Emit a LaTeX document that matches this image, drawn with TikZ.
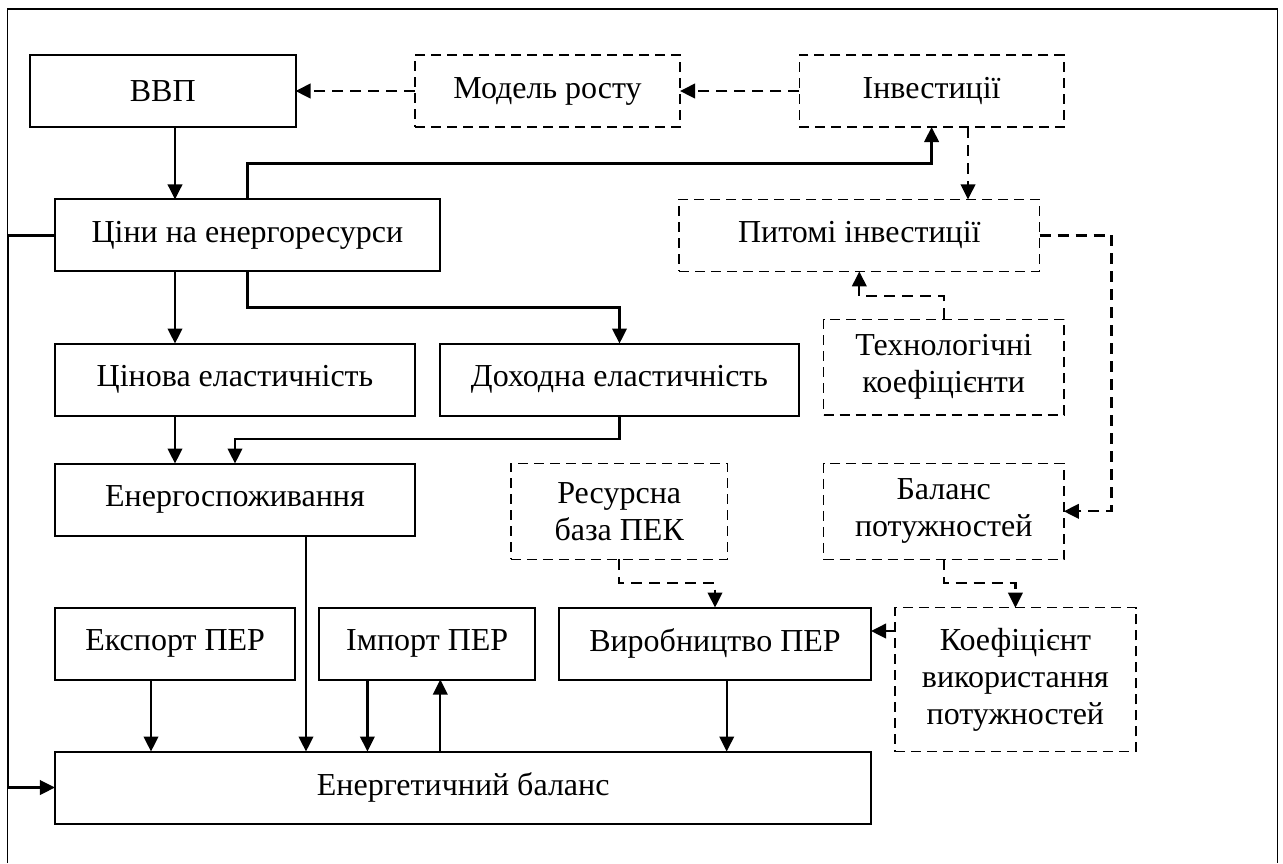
\documentclass[tikz,border=0pt]{standalone}
\usepackage{fontspec}
\setmainfont{Liberation Serif}
\usetikzlibrary{arrows.meta}
\tikzset{
blok/.style={draw,line width=0.8pt,inner sep=0pt,outer sep=0pt,align=center,font=\fontsize{12.8}{14.8}\selectfont,minimum height=28.8pt},
dblok/.style={blok,line width=0.6pt,dash pattern=on 4pt off 2.4pt},
arr/.style={line width=0.9pt,-{Triangle[length=6pt,width=5.8pt]}},
darr/.style={arr,dash pattern=on 4.4pt off 2.8pt},
}
\begin{document}
\begin{tikzpicture}[x=0.4pt,y=-0.4pt]
\useasboundingbox (0,0) rectangle (1283,863);
\draw[line width=0.7pt] (7.5,863)--(7.5,9)--(1277.5,9)--(1277.5,863);
%
\node[blok,minimum width=106.2pt] (vvp) at (162.75,91) {ВВП};
\node[dblok,minimum width=106pt] (model) at (547.5,91) {Модель росту};
\node[dblok,minimum width=105.8pt] (invest) at (931.6,91) {Інвестиції};
\node[blok,minimum width=153.9pt] (ceny) at (247.4,235.4) {Ціни на енергоресурси};
\node[dblok,minimum width=144.2pt] (pytomi) at (859.3,235.4) {Питомі інвестиції};
\node[blok,minimum width=144pt] (cinova) at (235,379.5) {Цінова еластичність};
\node[blok,minimum width=143.9pt] (dokhodna) at (619.5,379.5) {Доходна еластичність};
\node[dblok,minimum width=96.1pt,minimum height=38.3pt] (tekhn) at (943.7,367.2) {Технологічні\\коефіцієнти};
\node[blok,minimum width=144pt] (energo) at (235,499.5) {Енергоспоживання};
\node[dblok,minimum width=86.6pt,minimum height=38.4pt] (resurs) at (619.2,511.3) {Ресурсна\\база ПЕК};
\node[dblok,minimum width=96.1pt,minimum height=38.4pt] (balpot) at (943.7,511.3) {Баланс\\потужностей};
\node[blok,minimum width=96.2pt] (eksport) at (175.2,643.5) {Експорт ПЕР};
\node[blok,minimum width=86.6pt] (import) at (427.2,643.5) {Імпорт ПЕР};
\node[blok,minimum width=124.8pt] (vyrob) at (715,643.5) {Виробництво ПЕР};
\node[dblok,minimum width=96.3pt,minimum height=57.6pt] (koef) at (1015.4,679.7) {Коефіцієнт\\використання\\потужностей};
\node[blok,minimum width=326.6pt] (balans) at (463.2,787.5) {Енергетичний баланс};
%
\draw[darr] (model.west)--(vvp.east);
\draw[darr] (invest.west)--(model.east);
\draw[arr] (vvp.south -| 175,0)--(ceny.north -| 175,0);
\draw[arr] (ceny.north)--++(0,-36)-|(invest.south);
\draw[arr] (ceny.south)--++(0,36)-|(dokhodna.north);
\draw[arr] (ceny.south -| 175,0)--(cinova.north -| 175,0);
\draw[arr] (cinova.south -| 175,0)--(energo.north -| 175,0);
\draw[arr] (dokhodna.south)--++(0,23.5)-|(energo.north);
\draw[arr] (energo.south -| 306,0)--(balans.north -| 306,0);
\draw[arr] (ceny.west)--(ceny.west -| 8,0)|-(balans.west);
\draw[darr] (invest.south -| 968,0)--(pytomi.north -| 968,0);
\draw[darr] (tekhn.north)--++(0,-23)-|(pytomi.south);
\draw[darr] (pytomi.east)--(pytomi.east -| 1111.5,0)|-(balpot.east);
\draw[darr] (resurs.south)--++(0,24)-|(vyrob.north);
\draw[darr] (balpot.south)--++(0,24)-|(koef.north);
\draw[darr] (koef.west |- 0,631)--(vyrob.east |- 0,631);
%
\draw[arr] (eksport.south -| 151,0)--(balans.north -| 151,0);
\draw[arr] (import.south -| 367.4,0)--(balans.north -| 367.4,0);
\draw[arr] (balans.north -| 440.3,0)--(import.south -| 440.3,0);
\draw[arr] (vyrob.south -| 726.7,0)--(balans.north -| 726.7,0);
\end{tikzpicture}
\end{document}
